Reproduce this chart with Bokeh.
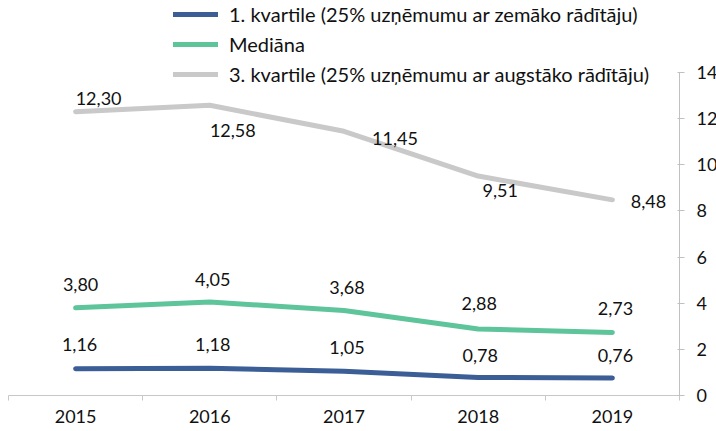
from bokeh.plotting import figure
from bokeh.models import (Range1d, LinearAxis, FixedTicker, Legend, LegendItem,
                          ColumnDataSource)
from bokeh.core.properties import value
from bokeh.embed import file_html
from bokeh.resources import INLINE

years = ["2015", "2016", "2017", "2018", "2019"]
q1 = [1.16, 1.18, 1.05, 0.78, 0.76]
median = [3.80, 4.05, 3.68, 2.88, 2.73]
q3 = [12.30, 12.58, 11.45, 9.51, 8.48]
series_names = ["1. kvartile (25% uzņēmumu ar zemāko rādītāju)",
                "Mediāna",
                "3. kvartile (25% uzņēmumu ar augstāko rādītāju)"]
y_ticks = [0, 2, 4, 6, 8, 10, 12, 14]

colors = ["#3B5E97", "#5EC49A", "#C9C9C9"]
# label placement offsets (screen px)
q1_dx = [4, 3, 3, 2, 3]; q1_dy = [-24, -24, -24, -22, -22]
md_dx = [5, 3, 3, 1, 3]; md_dy = [-23, -23, -23, -26, -24]
q3_dx = [23, 23, 51, 22, 36]; q3_dy = [-13, 25, 7, 14, 2]

FONT = "Lato"
xs = list(range(len(years)))
x_end = len(years) - 0.5

p = figure(width=720, height=431, output_backend="svg", toolbar_location=None,
           x_range=Range1d(-0.5, x_end), y_range=Range1d(0, 17.12),
           x_axis_location=None, y_axis_location=None,
           min_border_left=8, min_border_top=0, min_border_right=0, min_border_bottom=36)
p.outline_line_color = None
p.xgrid.visible = False
p.ygrid.visible = False
p.background_fill_color = "white"
p.border_fill_color = "white"

xaxis = LinearAxis(ticker=FixedTicker(ticks=xs, minor_ticks=[i - 0.5 for i in range(len(years) + 1)]),
                   major_label_overrides={i: y for i, y in enumerate(years)})
xaxis.major_tick_out = 0
xaxis.major_tick_in = 0
xaxis.minor_tick_out = 5
xaxis.minor_tick_in = 0
xaxis.minor_tick_line_color = "#C8C8C8"
xaxis.axis_line_color = "#C8C8C8"
xaxis.major_label_standoff = 9
xaxis.major_label_text_font = FONT
xaxis.major_label_text_font_size = "18px"
xaxis.major_label_text_color = "#111111"
p.add_layout(xaxis, "below")

yaxis = LinearAxis(ticker=FixedTicker(ticks=y_ticks), bounds=(0, 14))
yaxis.major_tick_out = 5
yaxis.major_tick_in = 2
yaxis.minor_tick_out = 0
yaxis.minor_tick_in = 0
yaxis.major_tick_line_color = "#C0C0C0"
yaxis.axis_line_color = "#C0C0C0"
yaxis.major_label_standoff = 12
yaxis.major_label_text_font = FONT
yaxis.major_label_text_font_size = "18px"
yaxis.major_label_text_color = "#111111"
p.add_layout(yaxis, "right")

items = []
for vals, col, name, dx, dy in [(q1, colors[0], series_names[0], q1_dx, q1_dy),
                                (median, colors[1], series_names[1], md_dx, md_dy),
                                (q3, colors[2], series_names[2], q3_dx, q3_dy)]:
    src = ColumnDataSource(dict(x=xs, y=vals,
                                lab=[f"{v:.2f}".replace(".", ",") for v in vals],
                                dx=dx, dy=dy))
    r = p.line("x", "y", source=src, line_color=col, line_width=5, line_cap="round",
               line_join="round")
    items.append(LegendItem(label=name, renderers=[r]))
    p.text("x", "y", text="lab", source=src, x_offset="dx", y_offset="dy",
           text_font=value(FONT), text_font_size="18px", text_color="#111111",
           text_align="center", text_baseline="middle")

legend = Legend(items=items, location=(165, 309), orientation="vertical")
legend.background_fill_alpha = 0
legend.border_line_color = None
legend.padding = 0
legend.margin = 0
legend.spacing = 6
legend.glyph_width = 45
legend.glyph_height = 20
legend.label_height = 20
legend.label_standoff = 11
legend.label_text_font = FONT
legend.label_text_font_size = "20px"
legend.label_text_color = "#111111"
p.add_layout(legend, "center")

open("out.html", "w").write(file_html(p, INLINE))
